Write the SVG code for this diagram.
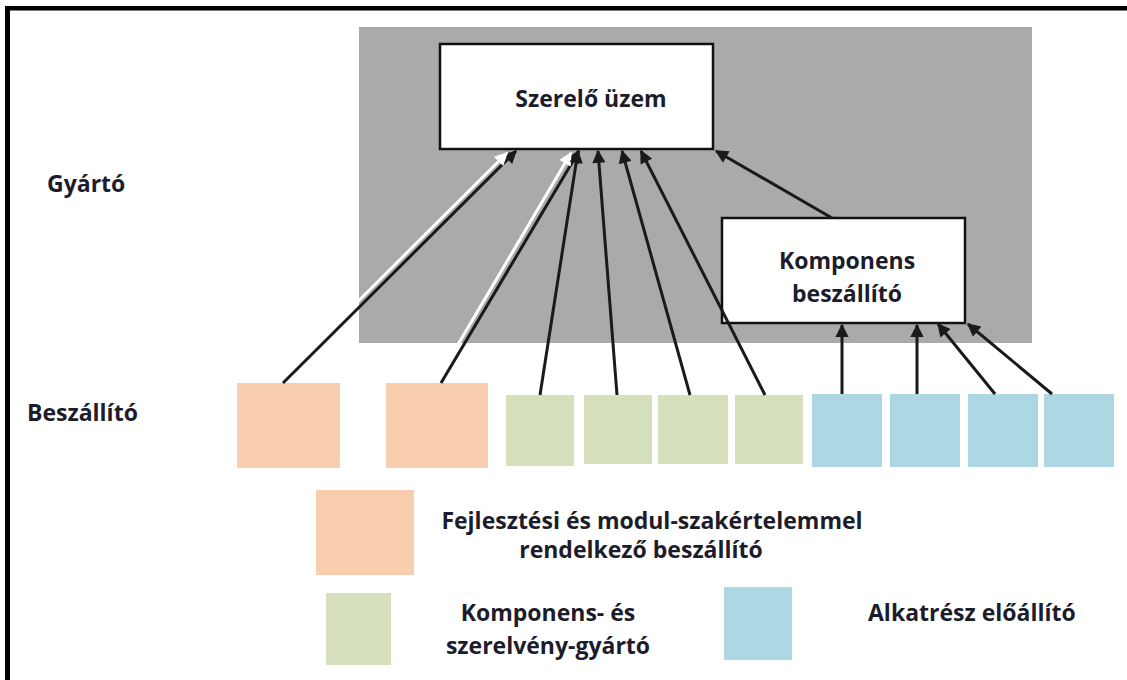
<svg xmlns="http://www.w3.org/2000/svg" width="1127" height="680" viewBox="0 0 1127 680">
<style>
  .t { font-family: "Open Sans", "Liberation Sans", sans-serif; font-weight: 700; font-size: 23px; fill: #1c1c2a; }
  .box { fill: #ffffff; stroke: #111111; stroke-width: 2.5; }
  .sal { fill: #f9ceaf; }
  .grn { fill: #d6e0bc; }
  .blu { fill: #add7e3; }
  .ln { stroke: #1a1a1a; stroke-width: 3; fill: none; marker-end: url(#ah); }
  .lnk { stroke: #1a1a1a; stroke-width: 3; fill: none; marker-end: url(#ah); }
  .lnw { stroke: #ffffff; stroke-width: 3; fill: none; marker-end: url(#ahw); }
</style>
<defs>
  <marker id="ah" viewBox="0 0 10 10" refX="9" refY="5" markerWidth="5" markerHeight="4.4" orient="auto" markerUnits="strokeWidth">
    <path d="M0,0 L10,5 L0,10 z" fill="#1a1a1a"/>
  </marker>
  <marker id="ahw" viewBox="0 0 10 10" refX="9" refY="5" markerWidth="5" markerHeight="4.4" orient="auto" markerUnits="strokeWidth">
    <path d="M0,0 L10,5 L0,10 z" fill="#ffffff"/>
  </marker>
</defs>
<rect x="0" y="0" width="1127" height="680" fill="#ffffff"/>
<!-- frame -->
<rect x="5" y="6" width="1122" height="4.5" fill="#000000"/>
<rect x="5" y="6" width="5" height="674" fill="#000000"/>
<!-- manufacturer region -->
<rect id="gyarto-region" x="359" y="27" width="673" height="316" fill="#aaaaaa"/>

<g id="label-gyarto"><text class="t" x="47" y="192">Gyártó</text></g>
<g id="label-beszallito"><text class="t" x="27" y="421">Beszállító</text></g>

<g id="szerelo-uzem">
  <rect class="box" x="440" y="44" width="273" height="105"/>
  <text class="t" x="591" y="107" text-anchor="middle">Szerelő üzem</text>
</g>
<g id="komponens-beszallito">
  <rect class="box" x="722" y="218" width="243" height="105"/>
  <text class="t" x="847" y="269" text-anchor="middle">Komponens</text>
  <text class="t" x="847" y="302" text-anchor="middle">beszállító</text>
</g>

<g id="suppliers">
  <rect id="s1" class="sal" x="237" y="383" width="103" height="85"/>
  <rect id="s2" class="sal" x="386" y="383" width="102" height="85"/>
  <rect id="g1" class="grn" x="506" y="395" width="68" height="71"/>
  <rect id="g2" class="grn" x="584" y="395" width="68" height="69"/>
  <rect id="g3" class="grn" x="658" y="395" width="70" height="69"/>
  <rect id="g4" class="grn" x="735" y="395" width="68" height="69"/>
  <rect id="b1" class="blu" x="812" y="394" width="70" height="73"/>
  <rect id="b2" class="blu" x="890" y="394" width="70" height="73"/>
  <rect id="b3" class="blu" x="968" y="394" width="70" height="73"/>
  <rect id="b4" class="blu" x="1044" y="394" width="70" height="73"/>
</g>

<g id="connectors">
  <line class="lnk" x1="283" y1="383" x2="516" y2="151"/>
  <line class="lnw" x1="279" y1="380" x2="507" y2="153"/>
  <line class="lnk" x1="441" y1="383" x2="579" y2="151"/>
  <line class="lnw" x1="437" y1="380" x2="571" y2="153"/>
  <line class="ln" x1="540" y1="395" x2="578" y2="151"/>
  <line class="ln" x1="617" y1="395" x2="598" y2="151"/>
  <line class="ln" x1="690" y1="395" x2="622" y2="151"/>
  <line class="ln" x1="765" y1="395" x2="641" y2="151"/>
  <line class="ln" x1="832" y1="218" x2="716" y2="151"/>
  <line class="ln" x1="842" y1="394" x2="842" y2="325"/>
  <line class="ln" x1="917" y1="394" x2="917" y2="325"/>
  <line class="ln" x1="995" y1="394" x2="938" y2="324"/>
  <line class="ln" x1="1052" y1="394" x2="968" y2="324"/>
</g>

<g id="legend">
  <g id="legend-fejlesztesi">
    <rect class="sal" x="316" y="490" width="98" height="85"/>
    <text class="t" x="652" y="529" text-anchor="middle">Fejlesztési és modul-szakértelemmel</text>
    <text class="t" x="641" y="558" text-anchor="middle">rendelkező beszállító</text>
  </g>
  <g id="legend-komponens">
    <rect class="grn" x="326" y="593" width="65" height="72"/>
    <text class="t" x="548" y="621" text-anchor="middle">Komponens- és</text>
    <text class="t" x="548" y="654" text-anchor="middle">szerelvény-gyártó</text>
  </g>
  <g id="legend-alkatresz">
    <rect class="blu" x="724" y="587" width="68" height="73"/>
    <text class="t" x="868" y="621">Alkatrész előállító</text>
  </g>
</g>
</svg>
